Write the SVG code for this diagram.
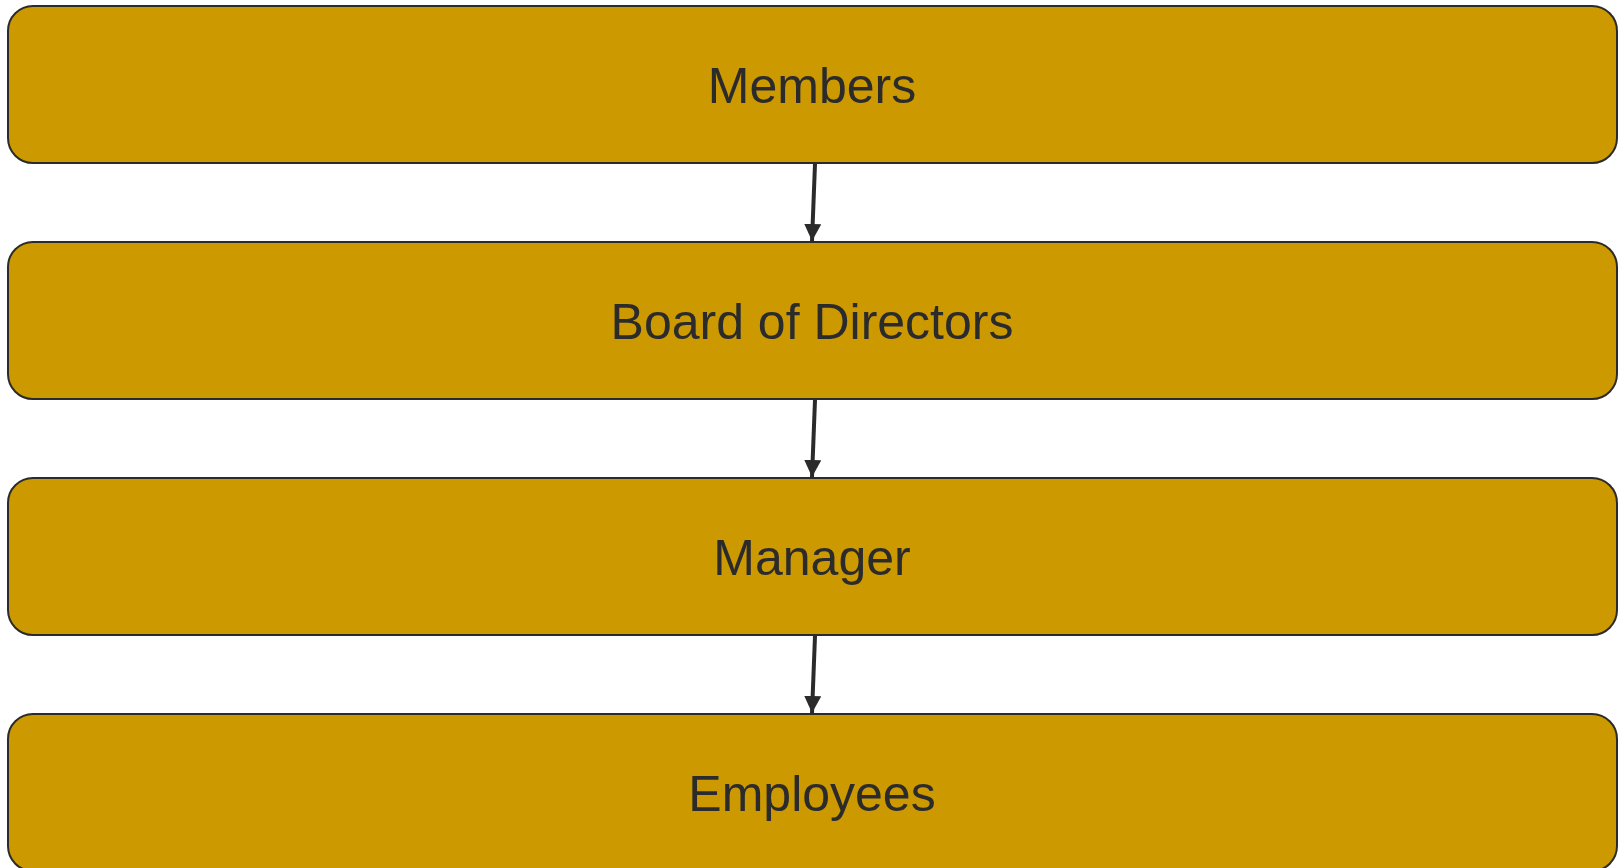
<svg xmlns="http://www.w3.org/2000/svg" width="1623" height="868" viewBox="0 0 1623 868">
<style>
.box{fill:#cc9900;stroke:#2b2b2b;stroke-width:2}
.lbl{font-family:"Liberation Sans",Arial,sans-serif;font-size:50px;fill:#2b2b2b;text-anchor:middle}
.edge{stroke:#2b2b2b;stroke-width:4;fill:none}
</style>
<defs>
<marker id="ah" markerUnits="userSpaceOnUse" markerWidth="18" markerHeight="18" refX="17" refY="8.5" orient="auto">
<path d="M0,0 L17,8.5 L0,17 Z" fill="#2b2b2b"/>
</marker>
</defs>
<rect width="1623" height="868" fill="#ffffff"/>
<g id="connectors">
<path class="edge" d="M815,164 L812,241" marker-end="url(#ah)"/>
<path class="edge" d="M815,400 L812,477" marker-end="url(#ah)"/>
<path class="edge" d="M815,636 L812,713" marker-end="url(#ah)"/>
</g>
<g id="members">
<rect class="box" x="8" y="6" width="1609" height="157" rx="25"/>
<text class="lbl" x="812" y="103">Members</text>
</g>
<g id="board">
<rect class="box" x="8" y="242" width="1609" height="157" rx="25"/>
<text class="lbl" x="812" y="339">Board of Directors</text>
</g>
<g id="manager">
<rect class="box" x="8" y="478" width="1609" height="157" rx="25"/>
<text class="lbl" x="812" y="575">Manager</text>
</g>
<g id="employees">
<rect class="box" x="8" y="714" width="1609" height="157" rx="25"/>
<text class="lbl" x="812" y="811">Employees</text>
</g>
</svg>
